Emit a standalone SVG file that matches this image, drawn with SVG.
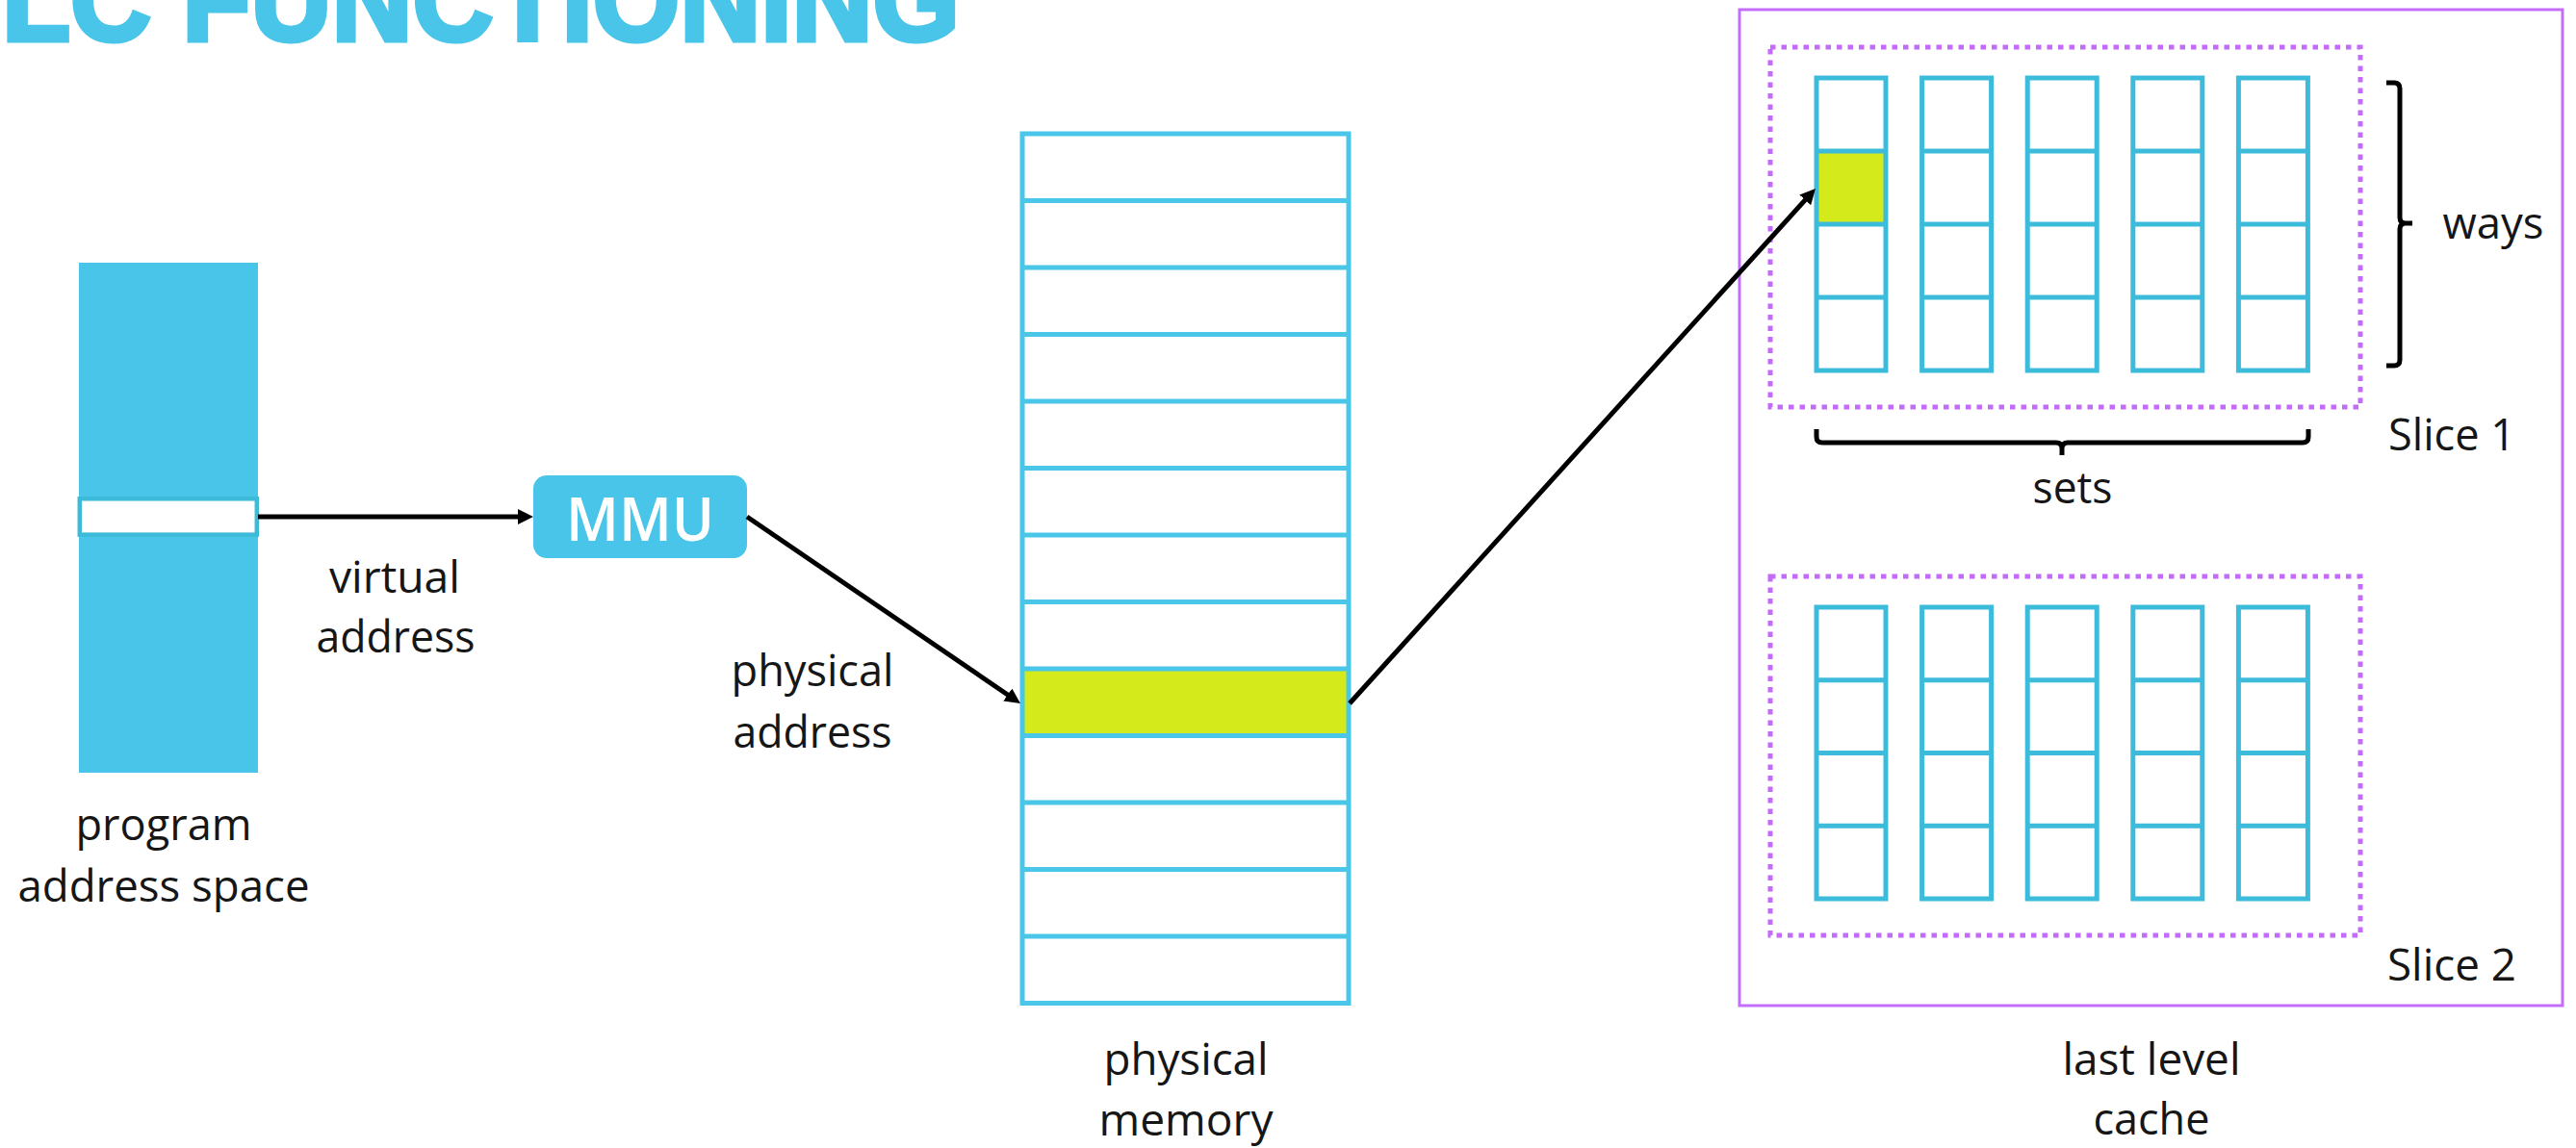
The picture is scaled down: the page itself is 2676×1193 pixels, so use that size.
<svg xmlns="http://www.w3.org/2000/svg" xmlns:xlink="http://www.w3.org/1999/xlink" width="2676" height="1193" viewBox="0 0 2676 1193">
<style>
.lbl{font-family:"Open Sans","Liberation Sans",sans-serif;font-size:45px;fill:#161616;text-anchor:middle}
.mem{fill:none;stroke:#4AC6E9;stroke-width:5}
.cell{fill:none;stroke:#3DBBDA;stroke-width:5}
.dot{fill:none;stroke:#C46BFA;stroke-width:5;stroke-dasharray:5.5 6}
.conn{stroke:#000;stroke-width:5;fill:none}
.brace{stroke:#000;stroke-width:5;fill:none;stroke-linecap:butt}
</style>
<defs>
<marker id="ah" markerUnits="userSpaceOnUse" viewBox="0 0 16 16" markerWidth="16" markerHeight="16" refX="8" refY="8" orient="auto">
<path d="M0,0 L16,8 L0,16 z" fill="#000"/>
</marker>
<g id="col1">
<rect class="cell" x="0" y="0" width="72" height="304"/>
<line class="cell" x1="0" y1="76" x2="72" y2="76"/>
<line class="cell" x1="0" y1="152" x2="72" y2="152"/>
<line class="cell" x1="0" y1="228" x2="72" y2="228"/>
</g>
<g id="col2">
<rect class="cell" x="0" y="0" width="72" height="303"/>
<line class="cell" x1="0" y1="75.75" x2="72" y2="75.75"/>
<line class="cell" x1="0" y1="151.5" x2="72" y2="151.5"/>
<line class="cell" x1="0" y1="227.25" x2="72" y2="227.25"/>
</g>
</defs>

<g id="title">
<text x="2" y="42" font-family="Liberation Sans, Arial, sans-serif" font-weight="bold" font-size="122" fill="#48C5E8" stroke="#48C5E8" stroke-width="5" textLength="995" lengthAdjust="spacingAndGlyphs">LC FUNCTIONING</text>
</g>

<g id="program-address-space">
<rect x="82" y="273" width="186" height="530" fill="#48C5E8"/>
<rect x="82.8" y="518.3" width="184" height="37.3" fill="#fff" stroke="#3DBAD8" stroke-width="4.5"/>
<text class="lbl" x="170" y="873" textLength="183" lengthAdjust="spacingAndGlyphs">program</text>
<text class="lbl" x="170" y="937" textLength="303" lengthAdjust="spacingAndGlyphs">address space</text>
</g>

<g id="mmu">
<rect x="554" y="494" width="222" height="86" rx="14" fill="#48C5E8"/>
<text x="665" y="562" font-family="Open Sans, Liberation Sans, sans-serif" font-weight="600" font-size="64" fill="#fff" text-anchor="middle" textLength="154" lengthAdjust="spacingAndGlyphs">MMU</text>
</g>

<g id="physical-memory">
<rect x="1062" y="695" width="339" height="69.5" fill="#D5EA1A"/>
<rect class="mem" x="1062" y="139" width="339" height="903.5"/>
<path class="mem" d="M1062,208.5H1401M1062,278H1401M1062,347.5H1401M1062,417H1401M1062,486.5H1401M1062,556H1401M1062,625.5H1401M1062,695H1401M1062,764.5H1401M1062,834H1401M1062,903.5H1401M1062,973H1401"/>
<text class="lbl" x="1232" y="1117" textLength="171" lengthAdjust="spacingAndGlyphs">physical</text>
<text class="lbl" x="1232" y="1180" textLength="181" lengthAdjust="spacingAndGlyphs">memory</text>
</g>

<g id="last-level-cache">
<rect x="1807" y="10" width="855" height="1035" fill="none" stroke="#C26EFB" stroke-width="3"/>
<text class="lbl" x="2235" y="1117" textLength="185" lengthAdjust="spacingAndGlyphs">last level</text>
<text class="lbl" x="2235" y="1179" textLength="121" lengthAdjust="spacingAndGlyphs">cache</text>
</g>

<g id="slice-1">
<rect class="dot" x="1839" y="49" width="613" height="374"/>
<rect x="1887" y="157" width="72" height="76" fill="#D5EA1A"/>
<use xlink:href="#col1" x="1887" y="81"/>
<use xlink:href="#col1" x="1996.6" y="81"/>
<use xlink:href="#col1" x="2106.2" y="81"/>
<use xlink:href="#col1" x="2215.8" y="81"/>
<use xlink:href="#col1" x="2325.4" y="81"/>
<path class="brace" d="M2479,86 H2487 Q2493,86 2493,92 V226 Q2493,232 2499,232 H2506 M2499,232 Q2493,232 2493,238 V374 Q2493,380 2487,380 H2479"/>
<text class="lbl" x="2590" y="248" textLength="105" lengthAdjust="spacingAndGlyphs">ways</text>
<path class="brace" d="M1887,446 V454 Q1887,460 1893,460 H2136 Q2142,460 2142,466 V473 M2142,466 Q2142,460 2148,460 H2392 Q2398,460 2398,454 V446"/>
<text class="lbl" x="2153" y="523" textLength="83" lengthAdjust="spacingAndGlyphs">sets</text>
<text class="lbl" x="2547" y="468" textLength="132" lengthAdjust="spacingAndGlyphs">Slice 1</text>
</g>

<g id="slice-2">
<rect class="dot" x="1839" y="599" width="613" height="373"/>
<use xlink:href="#col2" x="1887" y="631"/>
<use xlink:href="#col2" x="1996.6" y="631"/>
<use xlink:href="#col2" x="2106.2" y="631"/>
<use xlink:href="#col2" x="2215.8" y="631"/>
<use xlink:href="#col2" x="2325.4" y="631"/>
<text class="lbl" x="2547" y="1019" textLength="134" lengthAdjust="spacingAndGlyphs">Slice 2</text>
</g>

<g id="connectors">
<line class="conn" x1="268" y1="537" x2="546" y2="537" stroke-width="6" marker-end="url(#ah)"/>
<line class="conn" x1="776" y1="537" x2="1053.4" y2="726.5" marker-end="url(#ah)"/>
<line class="conn" x1="1402" y1="731" x2="1880.6" y2="201.9" marker-end="url(#ah)"/>
<text class="lbl" x="410" y="616" textLength="136" lengthAdjust="spacingAndGlyphs">virtual</text>
<text class="lbl" x="411" y="678" textLength="165" lengthAdjust="spacingAndGlyphs">address</text>
<text class="lbl" x="844" y="713" textLength="169" lengthAdjust="spacingAndGlyphs">physical</text>
<text class="lbl" x="844" y="777" textLength="165" lengthAdjust="spacingAndGlyphs">address</text>
</g>
</svg>
